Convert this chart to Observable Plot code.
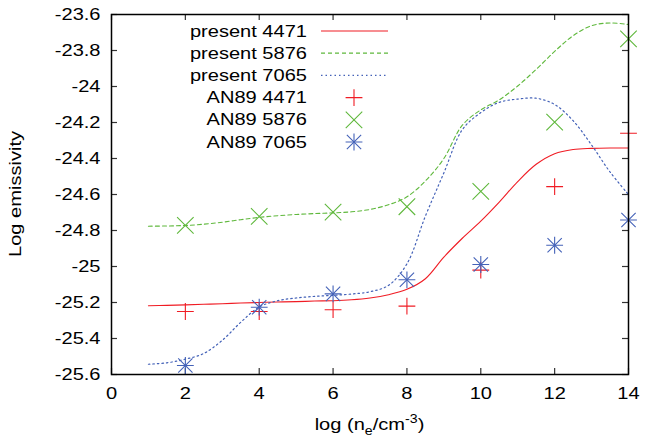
<!DOCTYPE html>
<html><head><meta charset="utf-8">
<script src="https://cdn.jsdelivr.net/npm/d3@7"></script>
<script src="https://cdn.jsdelivr.net/npm/@observablehq/plot@0.6"></script>
<style>
body{margin:0;background:#fff;}
#chart svg{display:block;}
</style></head><body><div id="chart"></div>
<script>
// ---- data ----
const curveX = [1,1.5,2,2.5,3,3.5,4,4.5,5,5.5,6,6.5,7,7.5,8,8.5,9,9.5,10,10.5,11,11.5,12,12.5,13,13.5,14];
const present4471 = [-25.218,-25.216,-25.213,-25.210,-25.207,-25.203,-25.200,-25.197,-25.195,-25.192,-25.190,-25.185,-25.175,-25.157,-25.127,-25.068,-24.948,-24.843,-24.748,-24.642,-24.528,-24.432,-24.373,-24.350,-24.344,-24.342,-24.342];
const present5876 = [-24.776,-24.775,-24.772,-24.765,-24.754,-24.740,-24.727,-24.718,-24.711,-24.706,-24.702,-24.696,-24.683,-24.657,-24.613,-24.525,-24.400,-24.215,-24.130,-24.074,-23.997,-23.905,-23.805,-23.718,-23.662,-23.647,-23.656];
const present7065 = [-25.543,-25.535,-25.515,-25.483,-25.410,-25.310,-25.225,-25.190,-25.175,-25.166,-25.160,-25.153,-25.140,-25.105,-24.985,-24.720,-24.480,-24.240,-24.145,-24.088,-24.070,-24.065,-24.100,-24.190,-24.325,-24.475,-24.600];

const pointX = [2,4,6,8,10,12,14];
const an89_4471 = [-25.25,-25.25,-25.24,-25.22,-25.02,-24.556,-24.26];
const an89_5876 = [-24.772,-24.722,-24.698,-24.668,-24.583,-24.198,-23.735];
const an89_7065 = [-25.55,-25.226,-25.152,-25.074,-24.989,-24.882,-24.742];

const xTicks = [0,2,4,6,8,10,12,14];
const yTicks = [-25.6,-25.4,-25.2,-25,-24.8,-24.6,-24.4,-24.2,-24,-23.8,-23.6];

const seriesNames = ["present 4471","present 5876","present 7065","AN89 4471","AN89 5876","AN89 7065"];
const colors = {c4471:"#f01c24", c5876:"#5fb83c", c7065:"#4462b8"};

// ---- build tables ----
const lineData = [];
[[present4471,"4471"],[present5876,"5876"],[present7065,"7065"]].forEach(([arr,k]) =>
  arr.forEach((v,i) => lineData.push({x: curveX[i], y: v, k})));
const pts = (arr) => arr.map((v,i) => ({x: pointX[i], y: v}));

// ---- layout ----
const W = 646, H = 441, mL = 111, mR = 18, mT = 14, mB = 67;
const plotW = W - mL - mR, plotH = H - mT - mB;
const font = "'Liberation Sans', Arial, Helvetica, sans-serif";
const fs = 17, stretch = 1.18;
const fmt = d => String(+d.toFixed(1));
const tickLen = 6, tickColor = "#333";

const rPlus = Math.sqrt(Math.pow(8.5/0.87559,2)/Math.PI);
const rTimes = Math.sqrt(Math.pow(8.3/0.6189,2)/Math.PI);
const rTimesSmall = Math.sqrt(Math.pow(7.2/0.6189,2)/Math.PI);

const chart = Plot.plot({
  width: W, height: H,
  marginLeft: mL, marginRight: mR, marginTop: mT, marginBottom: mB,
  style: {fontFamily: font, fontSize: fs + "px", color: "#000", background: "#fff"},
  x: {domain: [0, 14], axis: null},
  y: {domain: [-25.6, -23.6], axis: null},
  marks: [
    Plot.axisX({ticks: xTicks, tickFormat: fmt, tickSize: 0, tickPadding: 12, label: null, fontSize: fs}),
    Plot.axisY({ticks: yTicks, tickFormat: fmt, tickSize: 0, tickPadding: 11, label: null, fontSize: fs}),
    Plot.ruleX(xTicks, {x: d => d, insetTop: plotH - tickLen, stroke: tickColor, strokeWidth: 1.2}),
    Plot.ruleX(xTicks, {x: d => d, insetBottom: plotH - tickLen, stroke: tickColor, strokeWidth: 1.2}),
    Plot.ruleY(yTicks, {y: d => d, insetRight: plotW - tickLen, stroke: tickColor, strokeWidth: 1.2}),
    Plot.ruleY(yTicks, {y: d => d, insetLeft: plotW - tickLen, stroke: tickColor, strokeWidth: 1.2}),
    Plot.line(lineData.filter(d => d.k === "4471"), {x: "x", y: "y", stroke: colors.c4471, strokeWidth: 1.1, curve: "catmull-rom"}),
    Plot.line(lineData.filter(d => d.k === "5876"), {x: "x", y: "y", stroke: colors.c5876, strokeWidth: 1.1, strokeDasharray: "4,3", curve: "catmull-rom"}),
    Plot.line(lineData.filter(d => d.k === "7065"), {x: "x", y: "y", stroke: colors.c7065, strokeWidth: 1.2, strokeDasharray: "1.5,3", curve: "catmull-rom"}),
    Plot.dot(pts(an89_4471), {x: "x", y: "y", symbol: "plus", r: rPlus, stroke: colors.c4471, strokeWidth: 1.1}),
    Plot.dot(pts(an89_5876), {x: "x", y: "y", symbol: "times", r: rTimes, stroke: colors.c5876, strokeWidth: 1.1}),
    Plot.dot(pts(an89_7065), {x: "x", y: "y", symbol: "plus", r: rPlus, stroke: colors.c7065, strokeWidth: 1.1}),
    Plot.dot(pts(an89_7065), {x: "x", y: "y", symbol: "times", r: rTimesSmall, stroke: colors.c7065, strokeWidth: 1.1}),
    Plot.frame({stroke: "#000", strokeWidth: 1.5})
  ]
});
document.getElementById("chart").appendChild(chart);

// ---- axis titles & legend (added into the same SVG) ----
const svg = d3.select(chart);
svg.append("text")
  .attr("transform", `translate(15.5,${mT + plotH/2}) rotate(-90)`)
  .attr("text-anchor", "middle").attr("dominant-baseline", "central")
  .style("font-family", font).style("font-size", fs + "px").text("Log emissivity");

const xl = svg.append("text")
  .attr("x", mL + plotW/2).attr("y", 430)
  .attr("text-anchor", "middle")
  .style("font-family", font).style("font-size", fs + "px");
xl.append("tspan").text("log (n");
xl.append("tspan").attr("dy", 5).style("font-size", "12px").text("e");
xl.append("tspan").attr("dy", -5).text("/cm");
xl.append("tspan").attr("dy", -7).style("font-size", "12px").text("-3");
xl.append("tspan").attr("dy", 7).text(")");

const lg = svg.append("g").style("font-family", font).style("font-size", fs + "px");
const rowY0 = 31, rowStep = 22.2, textX = 307, lx1 = 321, lx2 = 388, mx = 354;
const legendStyles = [
  {type: "line", color: colors.c4471, dash: null},
  {type: "line", color: colors.c5876, dash: "4,3"},
  {type: "line", color: colors.c7065, dash: "1.5,3"},
  {type: "sym", color: colors.c4471, syms: [["plus", 8.5/0.87559]]},
  {type: "sym", color: colors.c5876, syms: [["times", 8.3/0.6189]]},
  {type: "sym", color: colors.c7065, syms: [["plus", 8.5/0.87559], ["times", 7.2/0.6189]]}
];
const symMap = {plus: d3.symbolPlus, times: d3.symbolTimes};
seriesNames.forEach((name, i) => {
  const y = rowY0 + i * rowStep;
  lg.append("text").attr("x", textX).attr("y", y).attr("text-anchor", "end")
    .attr("dominant-baseline", "central").text(name);
  const s = legendStyles[i];
  if (s.type === "line") {
    const l = lg.append("line").attr("x1", lx1).attr("x2", lx2).attr("y1", y).attr("y2", y)
      .attr("stroke", s.color).attr("stroke-width", 1.2);
    if (s.dash) l.attr("stroke-dasharray", s.dash);
  } else {
    s.syms.forEach(([nm, k]) => {
      lg.append("path").attr("transform", `translate(${mx},${y})`)
        .attr("d", d3.symbol(symMap[nm], k * k)())
        .attr("fill", "none").attr("stroke", s.color).attr("stroke-width", 1.1);
    });
  }
});

// widen the glyphs to match the reference's wider lettering
svg.selectAll("text").each(function() {
  const L = this.getComputedTextLength();
  if (L > 0) {
    this.setAttribute("textLength", (L * stretch).toFixed(1));
    this.setAttribute("lengthAdjust", "spacingAndGlyphs");
  }
});
</script>
</body></html>
